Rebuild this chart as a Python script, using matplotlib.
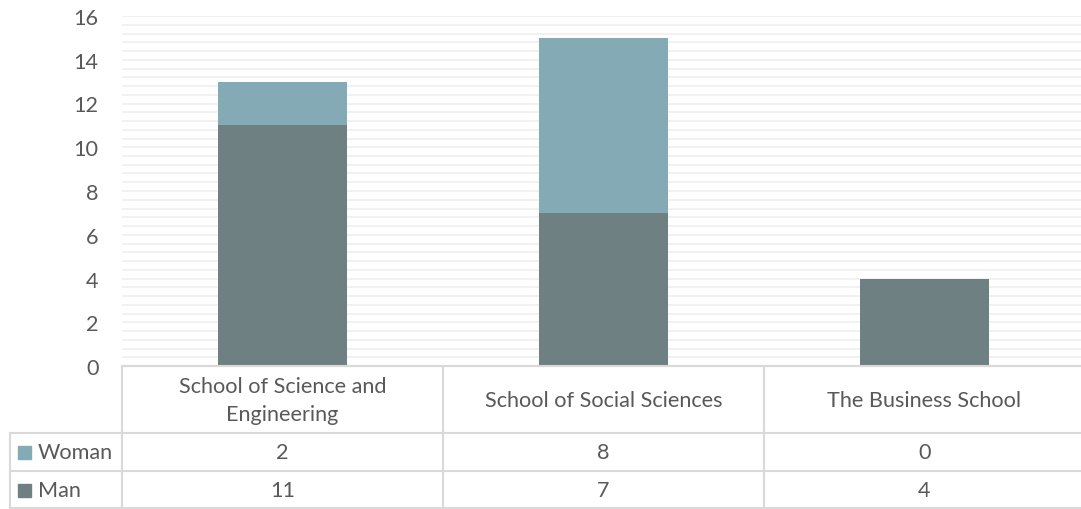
import matplotlib
matplotlib.use("Agg")
import matplotlib.pyplot as plt
from matplotlib.ticker import MultipleLocator
from matplotlib.patches import Rectangle
import numpy as np

# dati
categories = ["School of Science and\nEngineering", "School of Social Sciences", "The Business School"]
series_names = ["Woman", "Man"]
woman = [2, 8, 0]
man = [11, 7, 4]

col_man = "#6e8082"
col_woman = "#84abb5"
txt_col = "#595959"
line_col = "#d9d9d9"
grid_col = "#f0f0f0"

plt.rcParams["font.family"] = ["Lato", "DejaVu Sans"]
plt.rcParams["font.size"] = 15.6

W, H = 1081, 510
fig = plt.figure(figsize=(W / 100, H / 100), dpi=100)

# area del grafico (in pixel)
left, right, top, base = 122, 1085, 17, 367
ax = fig.add_axes([left / W, (H - base) / H, (right - left) / W, (base - top) / H])

x = np.arange(len(categories))
ax.bar(x, man, width=0.4, color=col_man, zorder=3)
ax.bar(x, woman, width=0.4, bottom=man, color=col_woman, zorder=3)

ax.set_xlim(-0.5, 2.5)
ax.set_ylim(0, 16)
ax.set_yticks(np.arange(0, 17, 2))
ax.yaxis.set_minor_locator(MultipleLocator(0.4))
ax.grid(which="both", axis="y", color=grid_col, lw=1.3, zorder=0)
ax.tick_params(axis="y", which="both", length=0, pad=17, labelcolor=txt_col)
ax.tick_params(axis="x", length=0, labelbottom=False)
for s in ["top", "right", "left"]:
    ax.spines[s].set_visible(False)
ax.spines["bottom"].set_color(line_col)
ax.spines["bottom"].set_linewidth(1.5)

# tabella dati sotto il grafico
lab_w = 112 / 321
tab = fig.add_axes([10 / W, 0, (right - 10) / W, 143 / H])
tab.set_xlim(-0.5 - lab_w, 2.5)
tab.set_ylim(0, 143)
tab.axis("off")

x0 = -0.5 - lab_w
kw = dict(color=line_col, lw=1.5, clip_on=False)
tab.plot([-0.5, 2.5], [143, 143], **kw)
for yy in [76, 38, 1]:
    tab.plot([x0, 2.5], [yy, yy], **kw)
tab.plot([x0, x0], [1, 76], **kw)
for xx in [-0.5, 0.5, 1.5]:
    tab.plot([xx, xx], [1, 143], **kw)

for i, c in enumerate(categories):
    tab.text(i, 109, c, ha="center", va="center", color=txt_col, linespacing=1.55)

rows = [(series_names[0], woman, col_woman, 57), (series_names[1], man, col_man, 19)]
for name, vals, col, yc in rows:
    tab.add_patch(Rectangle((x0 + 8 / 321, yc - 6.5), 13 / 321, 13, color=col, clip_on=False))
    tab.text(x0 + 28 / 321, yc, name, ha="left", va="center", color=txt_col)
    for i, v in enumerate(vals):
        tab.text(i, yc, str(v), ha="center", va="center", color=txt_col)

fig.savefig("out.png", dpi=100)
